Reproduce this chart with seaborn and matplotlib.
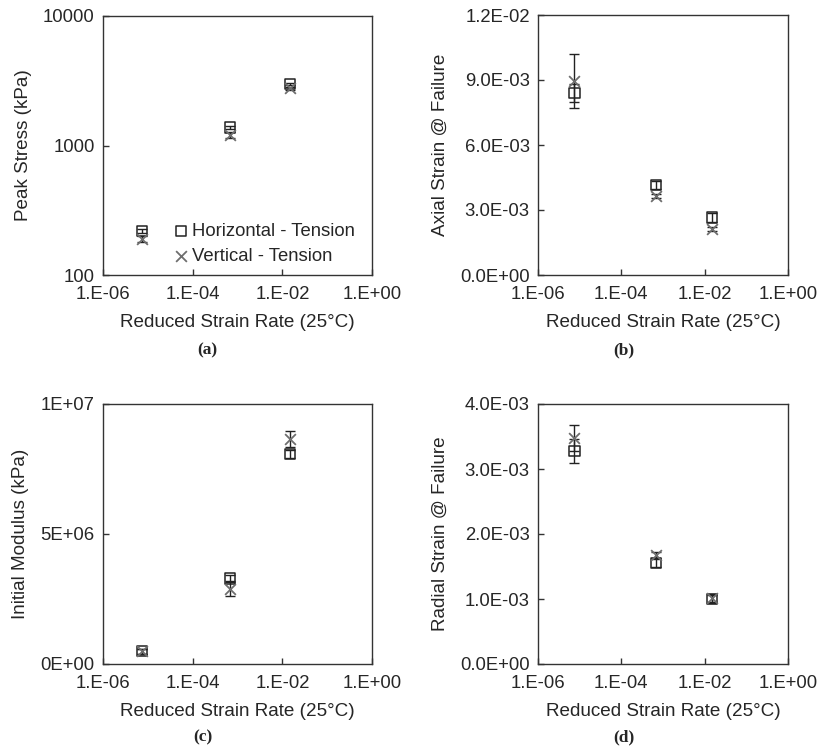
import matplotlib
matplotlib.use("Agg")
import matplotlib.pyplot as plt
import seaborn as sns
import pandas as pd

sns.set_style("white")
plt.rcParams['font.family'] = ['Liberation Sans', 'DejaVu Sans']

# ---------------- data ----------------
rate = [7.5e-6, 6.7e-4, 1.5e-2]
series = ["Horizontal - Tension", "Vertical - Tension"]

peak_h = [220, 1380, 2990]
peak_h_err = [8, 40, 60]
peak_v = [189, 1205, 2760]
peak_v_err = [10, 70, 80]

axial_h = [0.0084, 0.00415, 0.00265]
axial_h_err = [0.0004, 0.0002, 0.0002]
axial_v = [0.00895, 0.00366, 0.00211]
axial_v_err = [0.00125, 0.0001, 0.0001]

mod_h = [4.9e5, 3.29e6, 8.07e6]
mod_h_err = [1.0e5, 1.5e5, 1.5e5]
mod_v = [4.9e5, 2.9e6, 8.65e6]
mod_v_err = [1.0e5, 3.0e5, 3.2e5]

rad_h = [0.00328, 0.00155, 0.00100]
rad_h_err = [0.00018, 0.00006, 0.00006]
rad_v = [0.00347, 0.00168, 0.00102]
rad_v_err = [0.00020, 0.00005, 0.00006]

xticks = [1e-6, 1e-4, 1e-2, 1e0]
xtick_labels = ["1.E-06", "1.E-04", "1.E-02", "1.E+00"]

ylabels = ["Peak Stress (kPa)", "Axial Strain @ Failure",
           "Initial Modulus (kPa)", "Radial Strain @ Failure"]
yticks_a = [100, 1000, 10000]
yticks_a_labels = ["100", "1000", "10000"]
yticks_b = [0.0, 0.003, 0.006, 0.009, 0.012]
yticks_b_labels = ["0.0E+00", "3.0E-03", "6.0E-03", "9.0E-03", "1.2E-02"]
yticks_c = [0, 5e6, 1e7]
yticks_c_labels = ["0E+00", "5E+06", "1E+07"]
yticks_d = [0.0, 0.001, 0.002, 0.003, 0.004]
yticks_d_labels = ["0.0E+00", "1.0E-03", "2.0E-03", "3.0E-03", "4.0E-03"]
panel_labels = ["(a)", "(b)", "(c)", "(d)"]

# ---------------- figure ----------------
fig = plt.figure(figsize=(8.23, 7.51), dpi=100)
W, H = 823, 751
def rect(l, t, r, b):
    return [l / W, 1 - b / H, (r - l) / W, (b - t) / H]

axes = [fig.add_axes(rect(103, 16, 372, 275)),
        fig.add_axes(rect(538, 15, 788, 275)),
        fig.add_axes(rect(103, 404, 372, 664)),
        fig.add_axes(rect(538, 404, 788, 664))]

datasets = [(peak_h, peak_h_err, peak_v, peak_v_err, yticks_a, yticks_a_labels),
            (axial_h, axial_h_err, axial_v, axial_v_err, yticks_b, yticks_b_labels),
            (mod_h, mod_h_err, mod_v, mod_v_err, yticks_c, yticks_c_labels),
            (rad_h, rad_h_err, rad_v, rad_v_err, yticks_d, yticks_d_labels)]

txt = "#262626"
sq_col = "#222222"
x_col = "#6e6e6e"

for i, (ax, (hv, he, vv, ve, yt, ytl)) in enumerate(zip(axes, datasets)):
    ax.set_xscale("log")
    if i == 0:
        ax.set_yscale("log")
    ax.errorbar(rate, hv, yerr=he, fmt="none", ecolor=sq_col, elinewidth=1.0,
                capsize=3.5, capthick=1.0, zorder=2)
    ax.errorbar(rate, vv, yerr=ve, fmt="none", ecolor=sq_col, elinewidth=1.0,
                capsize=3.5, capthick=1.0, zorder=2)
    dfh = pd.DataFrame({"x": rate, "y": hv})
    dfv = pd.DataFrame({"x": rate, "y": vv})
    sns.scatterplot(data=dfh, x="x", y="y", ax=ax, marker="s", s=55,
                    facecolor="none", edgecolor=sq_col, linewidth=1.1,
                    label=series[0], zorder=3)
    sns.scatterplot(data=dfv, x="x", y="y", ax=ax, marker="x", s=60,
                    color=x_col, linewidth=1.3, label=series[1], zorder=3)
    ax.set_xlim(1e-6, 1e0)
    ax.set_ylim(yt[0], yt[-1])
    ax.set_xticks(xticks)
    ax.set_xticklabels(xtick_labels)
    ax.set_yticks(yt)
    ax.set_yticklabels(ytl)
    ax.minorticks_off()
    ax.tick_params(axis="both", which="both", direction="in", length=4.5,
                   width=1, color="#333333", labelsize=13.3, labelcolor=txt,
                   pad=6, top=False, right=False, bottom=True, left=True)
    ax.tick_params(axis="x", pad=8)
    for sp in ax.spines.values():
        sp.set_color("#333333")
        sp.set_linewidth(1.0)
    ax.set_xlabel("Reduced Strain Rate (25°C)", fontsize=13.6, color=txt, labelpad=8)
    ax.set_ylabel(ylabels[i], fontsize=13.6, color=txt, labelpad=8)
    if i == 0:
        ax.legend(loc="lower right", bbox_to_anchor=(0.985, -0.012), frameon=False,
                  fontsize=13.3, handletextpad=0.1, handlelength=1.0,
                  labelspacing=0.45, borderaxespad=0.3, labelcolor=txt)
    else:
        leg = ax.get_legend()
        if leg is not None:
            leg.remove()

fig.text(207 / W, 1 - 350 / H, panel_labels[0], ha="center", va="center",
         fontsize=12.5, fontweight="bold", family="Liberation Serif", color=txt)
fig.text(624 / W, 1 - 350 / H, panel_labels[1], ha="center", va="center",
         fontsize=12.5, fontweight="bold", family="Liberation Serif", color=txt)
fig.text(203 / W, 1 - 737 / H, panel_labels[2], ha="center", va="center",
         fontsize=12.5, fontweight="bold", family="Liberation Serif", color=txt)
fig.text(624 / W, 1 - 737 / H, panel_labels[3], ha="center", va="center",
         fontsize=12.5, fontweight="bold", family="Liberation Serif", color=txt)

fig.savefig("out.png", dpi=100, facecolor="white")
